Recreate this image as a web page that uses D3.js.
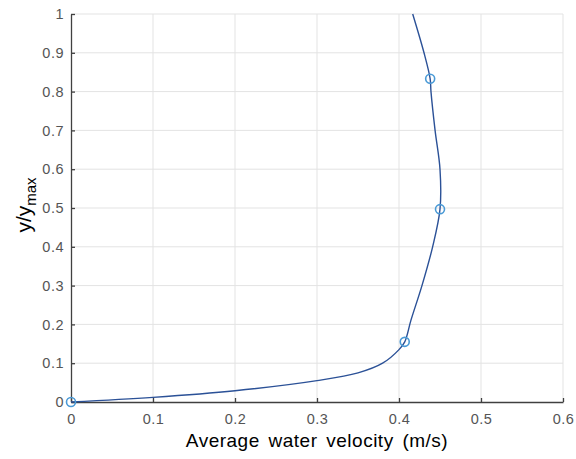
<!DOCTYPE html>
<html><head><meta charset="utf-8">
<script src="https://cdn.jsdelivr.net/npm/d3@7"></script>
<style>body{margin:0;background:#fff}svg{display:block}</style>
</head><body>
<svg id="c" width="576" height="459"></svg>
<script>
// Curve
const curveX = [0, 0.1, 0.2, 0.3, 0.35, 0.38, 0.400, 0.407, 0.4146, 0.428, 0.441, 0.450, 0.450, 0.444, 0.439, 0.438, 0.4305, 0.4167];
const curveY = [0, 0.012, 0.029, 0.055, 0.075, 0.100, 0.135, 0.155, 0.211, 0.3, 0.4, 0.497, 0.6, 0.7, 0.8, 0.833, 0.9, 1.0];
// Measured points (markers)
const markX = [0, 0.407, 0.450, 0.438];
const markY = [0, 0.155, 0.497, 0.833];
const xTicks = [0, 0.1, 0.2, 0.3, 0.4, 0.5, 0.6];
const yTicks = [0, 0.1, 0.2, 0.3, 0.4, 0.5, 0.6, 0.7, 0.8, 0.9, 1];

const svg = d3.select("#c");
const L = 71, R = 563, T = 14, B = 402;
const x = d3.scaleLinear().domain([0, 0.6]).range([L, R]);
const y = d3.scaleLinear().domain([0, 1]).range([B, T]);
const font = "'Liberation Sans', Arial, sans-serif";

// grid
const g = svg.append("g");
g.selectAll("line.vx").data(xTicks.slice(1)).join("line")
  .attr("x1", d => x(d)).attr("x2", d => x(d)).attr("y1", B).attr("y2", T)
  .attr("stroke", "#e3e3e3").attr("stroke-width", 1);
g.selectAll("line.hy").data(yTicks.slice(1)).join("line")
  .attr("y1", d => y(d)).attr("y2", d => y(d)).attr("x1", L).attr("x2", R)
  .attr("stroke", "#e3e3e3").attr("stroke-width", 1);

// axes
const xa = svg.append("g").attr("transform", `translate(0,${B})`)
  .call(d3.axisBottom(x).tickValues(xTicks).tickFormat(d => d3.format("~g")(d)).tickSizeInner(-4).tickSizeOuter(0).tickPadding(12));
const ya = svg.append("g").attr("transform", `translate(${L},0)`)
  .call(d3.axisLeft(y).tickValues(yTicks).tickFormat(d => d3.format("~g")(d)).tickSizeInner(-4).tickSizeOuter(0).tickPadding(7));
[xa, ya].forEach(a => {
  a.select(".domain").attr("stroke", "#404040").attr("stroke-width", 1.3);
  a.selectAll(".tick line").attr("stroke", "#404040").attr("stroke-width", 1.3);
  a.selectAll(".tick text").attr("fill", "#555").attr("font-size", 14.5)
    .attr("letter-spacing", 0.5).attr("font-family", font);
});

// curve
const pts = curveX.map((v, i) => [v, curveY[i]]);
const line = d3.line().x(d => x(d[0])).y(d => y(d[1])).curve(d3.curveCatmullRom.alpha(0.5));
svg.append("path").attr("d", line(pts)).attr("fill", "none")
  .attr("stroke", "#2b5197").attr("stroke-width", 1.4);

// markers
svg.selectAll("circle.m").data(markX.map((v, i) => [v, markY[i]])).join("circle")
  .attr("cx", d => x(d[0])).attr("cy", d => y(d[1])).attr("r", 4.5)
  .attr("fill", "none").attr("stroke", "#4a9ad6").attr("stroke-width", 1.6);

// labels
svg.append("text").attr("x", 317).attr("y", 447).attr("text-anchor", "middle")
  .attr("font-family", font).attr("font-size", 19).attr("letter-spacing", 0.5)
  .attr("word-spacing", 3).attr("fill", "#000")
  .text("Average water velocity (m/s)");
const yl = svg.append("text").attr("transform", `translate(31,${205}) rotate(-90)`)
  .attr("text-anchor", "middle").attr("font-family", font).attr("font-size", 21).attr("fill", "#000");
yl.append("tspan").text("y/y");
yl.append("tspan").attr("font-size", 15).attr("dy", 5).text("max");
</script>
</body></html>
